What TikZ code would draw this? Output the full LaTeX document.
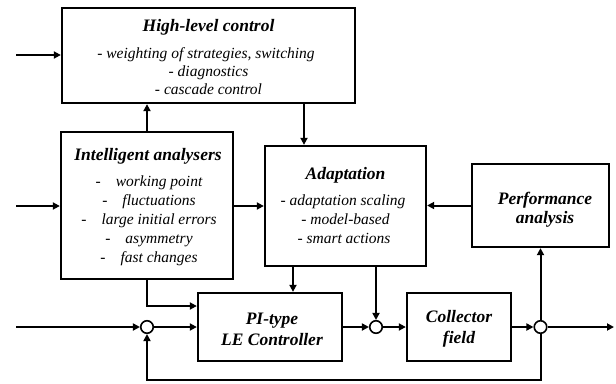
\documentclass[tikz,border=0pt]{standalone}
\usepackage{fontspec}
\setmainfont{Liberation Serif}
\usetikzlibrary{arrows.meta}

\begin{document}
\begin{tikzpicture}[x=1pt,y=-1pt,
  line width=2pt,
  block/.style={draw,rectangle,line width=2.3pt,inner sep=0pt},
  sumpt/.style={draw,circle,line width=1.6pt,minimum size=12.5pt,inner sep=0pt,fill=white},
  arr/.style={-{Triangle[length=7pt,width=7pt]}},
  ttl/.style={font=\fontsize{17.5}{20}\selectfont\bfseries\itshape,inner sep=0pt,align=center},
  itm/.style={font=\fontsize{15.5}{18}\selectfont\itshape,inner sep=0pt,text height=10.5pt,text depth=3.5pt}]
\useasboundingbox (0,0) rectangle (616,383);

% blocks
\node[block,minimum width=293pt,minimum height=95pt] (hlc) at (208.5,55.5) {};
\node[block,minimum width=172pt,minimum height=147pt] (ia) at (147,205.5) {};
\node[block,minimum width=161pt,minimum height=120pt] (ad) at (345.5,206) {};
\node[block,minimum width=137pt,minimum height=83pt] (pa) at (540.5,205.5) {};
\node[block,minimum width=144pt,minimum height=68pt] (pi) at (270,327) {};
\node[block,minimum width=104pt,minimum height=68pt] (cf) at (459,327) {};

% summing points
\node[sumpt] (j1) at (147,327) {};
\node[sumpt] (j2) at (376,327) {};
\node[sumpt] (j3) at (540.5,327) {};

% texts: high-level control
\node[ttl] (hlcT) at (208.5,27) {High-level control};
\node[itm] (hlc1) at (206,55) {- weighting of strategies, switching};
\node[itm] (hlc2) at (208.5,73) {- diagnostics};
\node[itm] (hlc3) at (208.5,90.5) {- cascade control};

% texts: intelligent analysers
\node[ttl] (iaT) at (148,156) {Intelligent analysers};
\node[itm] (ia1) at (149,183) {-\hspace{15pt}working point};
\node[itm] (ia2) at (149,202) {-\hspace{15pt}fluctuations};
\node[itm] (ia3) at (149,221) {-\hspace{15pt}large initial errors};
\node[itm] (ia4) at (149,240) {-\hspace{15pt}asymmetry};
\node[itm] (ia5) at (149,259) {-\hspace{15pt}fast changes};

% texts: adaptation
\node[ttl] (adT) at (345.5,175) {Adaptation};
\node[itm] (ad1) at (343,202) {- adaptation scaling};
\node[itm] (ad2) at (345.5,221) {- model-based};
\node[itm] (ad3) at (344,240) {- smart actions};

% texts: performance analysis, controller, plant
\node[ttl] (paT) at (545,210) {Performance\\[-1pt]analysis};
\node[ttl] (piT) at (272,329) {PI-type\\[1pt]LE Controller};
\node[ttl] (cfT) at (459,329) {Collector\\[1pt]field};

% free ends of the signal lines
\coordinate (in1) at (16,55);
\coordinate (in2) at (16,206);
\coordinate (in3) at (16,327);
\coordinate (out) at (614,327);
\coordinate (xa) at (304,0);
\coordinate (xb) at (293,0);
\coordinate (ya) at (0,306);
\coordinate (yb) at (0,380);

% connectors
\draw[arr] (in1) -- (hlc.west |- in1);
\draw[arr] (ia.north) -- (ia.north |- hlc.south);
\draw[arr] (hlc.south -| xa) -- (ad.north -| xa);
\draw[arr] (in2) -- (ia.west |- in2);
\draw[arr] (ia.east |- in2) -- (ad.west |- in2);
\draw[arr] (pa.west) -- (ad.east |- pa.west);
\draw[arr] (ad.south -| xb) -- (pi.north -| xb);
\draw[arr] (ad.south -| j2) -- (j2.north);
\draw[arr] (ia.south) |- (pi.west |- ya);
\draw[arr] (in3) -- (j1.west);
\draw[arr] (j1.east) -- (pi.west);
\draw[arr] (pi.east) -- (j2.west);
\draw[arr] (j2.east) -- (cf.west);
\draw[arr] (cf.east) -- (j3.west);
\draw[arr] (j3.east) -- (out);
\draw[arr] (j3.north) -- (pa.south -| j3);
\draw[arr] (j3.south) -- (j3 |- yb) -| (j1.south);
\end{tikzpicture}
\end{document}
